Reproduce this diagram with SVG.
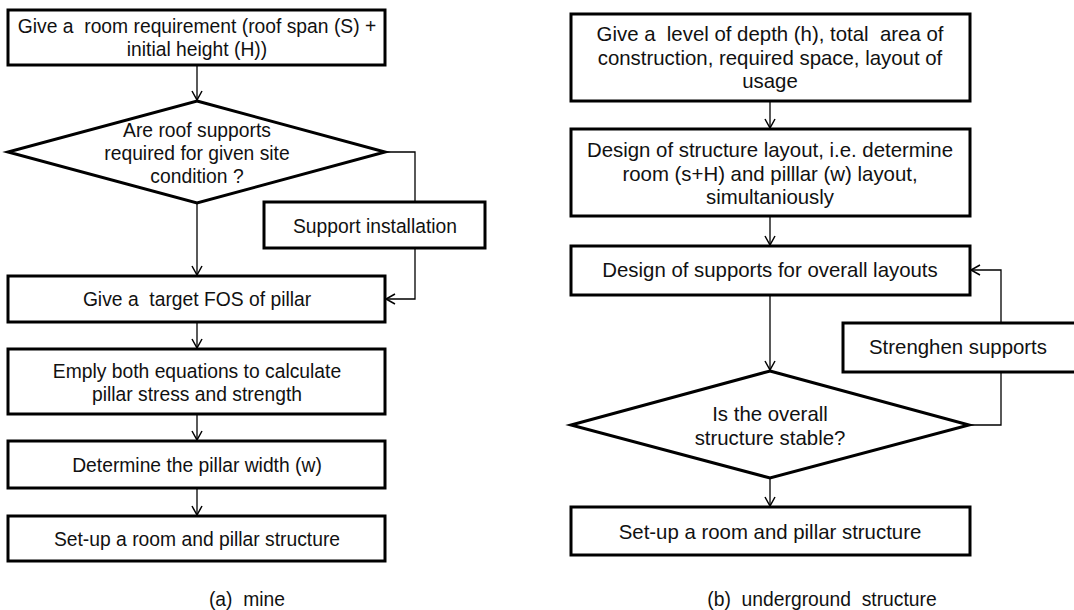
<svg xmlns="http://www.w3.org/2000/svg" width="1074" height="610" viewBox="0 0 1074 610" xml:space="preserve">
<style>
.box{fill:#fff;stroke:#000;stroke-width:3}
.t{font-family:"Liberation Sans",Arial,sans-serif;font-size:19.3px;fill:#111;text-anchor:middle;white-space:pre}
.tr{font-size:20.4px}
.c{fill:none;stroke:#000;stroke-width:1.3}
</style>
<defs>
<marker id="ah" markerUnits="userSpaceOnUse" viewBox="-1 -6 12 12" refX="9" refY="0" markerWidth="12" markerHeight="12" orient="auto">
<path d="M0,-5 L9,0 L0,5" fill="none" stroke="#000" stroke-width="1.5"/>
</marker>
</defs>
<rect width="1074" height="610" fill="#fff"/>
<g id="connectors">
<path class="c" d="M197,65 V100" marker-end="url(#ah)"/>
<path class="c" d="M197,203 V275" marker-end="url(#ah)"/>
<path class="c" d="M385,152 H415 V202"/>
<path class="c" d="M415,248 V299 H386" marker-end="url(#ah)"/>
<path class="c" d="M197,322 V348" marker-end="url(#ah)"/>
<path class="c" d="M197,414 V440" marker-end="url(#ah)"/>
<path class="c" d="M197,488 V515" marker-end="url(#ah)"/>
<path class="c" d="M770,101 V128" marker-end="url(#ah)"/>
<path class="c" d="M770,216 V245" marker-end="url(#ah)"/>
<path class="c" d="M770,295 V370" marker-end="url(#ah)"/>
<path class="c" d="M969,425 H1001 V372"/>
<path class="c" d="M1001,323 V270 H971" marker-end="url(#ah)"/>
<path class="c" d="M770,478 V506" marker-end="url(#ah)"/>
</g>
<g id="a1"><rect class="box" x="8" y="10" width="377" height="55"/>
<text class="t" x="197" y="33">Give a  room requirement (roof span (S) +</text>
<text class="t" x="197" y="56">initial height (H))</text></g>
<g id="a2"><polygon class="box" points="197,101 385,152 197,203 8,152"/>
<text class="t" x="197" y="137">Are roof supports</text>
<text class="t" x="197" y="160">required for given site</text>
<text class="t" x="197" y="183">condition ?</text></g>
<g id="a3"><rect class="box" x="264" y="202" width="221" height="46"/>
<text class="t" x="375" y="233">Support installation</text></g>
<g id="a4"><rect class="box" x="8" y="276" width="377" height="46"/>
<text class="t" x="197" y="306">Give a  target FOS of pillar</text></g>
<g id="a5"><rect class="box" x="8" y="349" width="377" height="65"/>
<text class="t" x="197" y="378">Emply both equations to calculate</text>
<text class="t" x="197" y="401">pillar stress and strength</text></g>
<g id="a6"><rect class="box" x="8" y="441" width="377" height="47"/>
<text class="t" x="197" y="472">Determine the pillar width (w)</text></g>
<g id="a7"><rect class="box" x="8" y="516" width="377" height="45"/>
<text class="t" x="197" y="546">Set-up a room and pillar structure</text></g>
<text class="t" x="247" y="606">(a)  mine</text>
<g id="b1"><rect class="box" x="571" y="14" width="399" height="87"/>
<text class="t tr" x="770" y="41">Give a  level of depth (h), total  area of</text>
<text class="t tr" x="770" y="65">construction, required space, layout of</text>
<text class="t tr" x="770" y="88">usage</text></g>
<g id="b2"><rect class="box" x="571" y="129" width="399" height="87"/>
<text class="t tr" x="770" y="157">Design of structure layout, i.e. determine</text>
<text class="t tr" x="770" y="181">room (s+H) and pilllar (w) layout,</text>
<text class="t tr" x="770" y="204">simultaniously</text></g>
<g id="b3"><rect class="box" x="571" y="246" width="399" height="49"/>
<text class="t tr" x="770" y="277">Design of supports for overall layouts</text></g>
<g id="b4"><polygon class="box" points="770,371 969,425 770,478 571,425"/>
<text class="t tr" x="770" y="421">Is the overall</text>
<text class="t tr" x="770" y="445">structure stable?</text></g>
<g id="b5"><rect class="box" x="843" y="323" width="233" height="49"/>
<text class="t tr" x="958" y="354">Strenghen supports</text></g>
<g id="b6"><rect class="box" x="571" y="507" width="399" height="48"/>
<text class="t tr" x="770" y="539">Set-up a room and pillar structure</text></g>
<text class="t" x="822" y="606">(b)  underground  structure</text>
</svg>
